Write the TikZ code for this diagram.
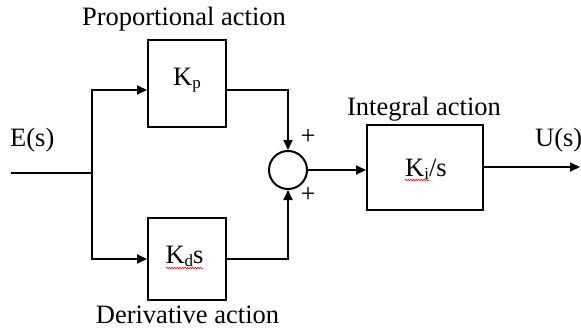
\documentclass[tikz,border=0pt]{standalone}
\usepackage{fontspec}
\setmainfont{Liberation Serif}
\usetikzlibrary{arrows.meta,decorations.pathmorphing}
\newcommand\sbs[1]{\raisebox{-3pt}{\fontsize{17}{17}\selectfont #1}}
\tikzset{
  wire/.style={line width=2pt,line join=miter},
  arr/.style={wire,-{Triangle[length=10pt,width=9pt]}},
  blk/.style={draw,line width=2pt,inner sep=0pt},
  txt/.style={inner sep=0pt,font=\fontsize{26.5}{30}\selectfont},
  squig/.style={red,line width=0.5pt,decorate,decoration={snake,amplitude=0.9pt,segment length=2.6pt}}
}
\begin{document}
\begin{tikzpicture}[x=1pt,y=-1pt]
\useasboundingbox (0,0) rectangle (581,329);
% blocks
\node[blk,minimum width=78pt,minimum height=87pt] (kp) at (187,83.5) {};
\node[blk,minimum width=78pt,minimum height=82pt] (kd) at (187,259) {};
\node[blk,minimum width=116pt,minimum height=85pt] (ki) at (425,167.5) {};
\node[blk,circle,minimum size=38pt] (sum) at (288,170) {};
% coordinates
\coordinate (in) at (11,173);
\coordinate (br) at (92,173);
\coordinate (b1) at (92,90);
\coordinate (b2) at (92,259);
\coordinate (out) at (580,167);
% connectors
\draw[wire] (in) -- (br);
\draw[arr] (br) |- (kp.west |- b1);
\draw[arr] (br) |- (kd.west |- b2);
\draw[arr] (kp.east |- b1) -| (sum.north);
\draw[arr] (kd.east |- b2) -| (sum.south);
\draw[arr] (sum.east) -- (sum.east -| ki.west);
\draw[arr] (ki.east |- out) -- (out);
% labels
\node[txt,anchor=base] (lp) at (184,26) {Proportional action};
\node[txt,anchor=base] (li) at (424,115) {Integral action};
\node[txt,anchor=base] (ld) at (187.5,323) {Derivative action};
\node[txt,anchor=base west] (le) at (10,146) {E(s)};
\node[txt,anchor=base west] (lu) at (535,146) {U(s)};
\node[txt,anchor=base] (tkp) at (187,85) {K\sbs{p}};
\node[txt,anchor=base] (tkd) at (184.5,263) {K\sbs{d}s};
\node[txt,anchor=base] (tki) at (426,176) {K\sbs{i}/s};
\node[txt] (p1) at (308,137) {+};
\node[txt] (p2) at (308,195) {+};
% spell-check squiggles
\draw[squig] (166,268) -- (203,268);
\draw[squig] (405,180) -- (430,180);
\end{tikzpicture}
\end{document}
